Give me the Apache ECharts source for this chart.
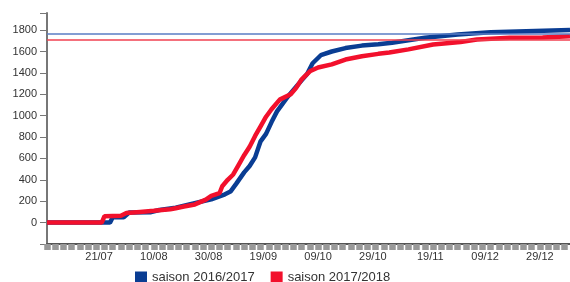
<!DOCTYPE html>
<html>
<head>
<meta charset="utf-8">
<script src="https://cdn.jsdelivr.net/npm/echarts@6/dist/echarts.min.js"></script>
<style>
  html, body { margin: 0; padding: 0; background: #fff; }
  #chart { width: 570px; height: 282px; }
</style>
</head>
<body>
<div id="chart"></div>
<script>
// days shown on the x axis: 02/07 .. 09/01
const months = [[7, 2, 31], [8, 1, 31], [9, 1, 30], [10, 1, 31], [11, 1, 30], [12, 1, 31], [1, 1, 9]]
const days = []
months.forEach(m => {
  for (let d = m[1]; d <= m[2]; d++) {
    days.push(String(d).padStart(2, '0') + '/' + String(m[0]).padStart(2, '0'))
  }
})

const tickLabels = ['21/07', '10/08', '30/08', '19/09', '09/10', '29/10', '19/11', '09/12', '29/12']

// cumulative values: [day, value]
const saison1617 = [
  ['02/07', 0], ['25/07', 0], ['26/07', 50], ['30/07', 50], ['01/08', 95], ['09/08', 98],
  ['12/08', 118], ['18/08', 140], ['23/08', 170], ['31/08', 218], ['05/09', 265], ['07/09', 290],
  ['09/09', 360], ['12/09', 470], ['14/09', 530], ['16/09', 610], ['18/09', 760], ['20/09', 830],
  ['22/09', 940], ['24/09', 1040], ['26/09', 1110], ['28/09', 1180], ['01/10', 1270], ['03/10', 1330],
  ['05/10', 1390], ['07/10', 1490], ['10/10', 1565], ['14/10', 1600], ['19/10', 1632], ['25/10', 1655],
  ['31/10', 1667], ['05/11', 1682], ['17/11', 1728], ['29/11', 1758], ['11/12', 1780], ['24/12', 1790],
  ['09/01', 1800]
]
const saison1718 = [
  ['02/07', 0], ['22/07', 0], ['23/07', 60], ['29/07', 65], ['31/07', 90], ['05/08', 100],
  ['10/08', 110], ['16/08', 125], ['18/08', 135], ['21/08', 150], ['25/08', 170], ['29/08', 215],
  ['31/08', 250], ['03/09', 275], ['04/09', 340], ['06/09', 400], ['08/09', 450], ['10/09', 540],
  ['12/09', 630], ['14/09', 710], ['16/09', 810], ['18/09', 900], ['20/09', 990], ['22/09', 1060],
  ['25/09', 1150], ['29/09', 1200], ['01/10', 1260], ['03/10', 1340], ['06/10', 1415], ['09/10', 1450],
  ['14/10', 1480], ['19/10', 1525], ['25/10', 1555], ['31/10', 1578], ['04/11', 1590], ['11/11', 1620],
  ['20/11', 1665], ['30/11', 1688], ['06/12', 1713], ['18/12', 1728], ['30/12', 1730], ['09/01', 1742]
]
const refLines = [1770, 1713]

const font = 'Liberation Sans, Arial, sans-serif'
const myecharts = echarts.init(document.getElementById('chart'), null, { renderer: 'canvas' })
const option = {
  animation: false,
  grid: { left: 47, right: 0, top: 13, height: 231 },
  legend: {
    left: 130,
    top: 266,
    icon: 'rect',
    itemWidth: 12,
    itemHeight: 12,
    itemGap: 16,
    textStyle: { fontSize: 13, color: '#333', fontFamily: font },
    data: ['saison 2016/2017', 'saison 2017/2018']
  },
  xAxis: {
    type: 'category',
    boundaryGap: false,
    data: days,
    axisLine: { onZero: false, lineStyle: { color: '#555', width: 2 } },
    axisTick: {
      interval: 2,
      length: 6,
      lineStyle: { color: '#999', width: 6.5 }
    },
    axisLabel: {
      interval: (i, v) => tickLabels.includes(v),
      fontSize: 11,
      color: '#333',
      fontFamily: font,
      margin: 7
    },
    splitLine: { show: false }
  },
  yAxis: {
    type: 'value',
    min: -200,
    max: 1960,
    interval: 200,
    axisLine: { show: true, lineStyle: { color: '#777', width: 2 } },
    axisTick: { show: true, length: 7, lineStyle: { color: '#777' } },
    axisLabel: {
      fontSize: 11,
      color: '#333',
      fontFamily: font,
      margin: 10,
      formatter: v => (v < 0 || v > 1800) ? '' : String(v)
    },
    splitLine: { show: false }
  },
  series: [
    {
      name: 'saison 2016/2017',
      type: 'line',
      data: saison1617,
      showSymbol: false,
      color: '#0a3d93',
      lineStyle: { width: 4.5, color: '#0a3d93' },
      markLine: {
        silent: true,
        symbol: 'none',
        label: { show: false },
        lineStyle: { color: '#5a7cc4', width: 1.5, type: 'solid' },
        data: [{ yAxis: refLines[0] }]
      }
    },
    {
      name: 'saison 2017/2018',
      type: 'line',
      data: saison1718,
      showSymbol: false,
      color: '#f2102c',
      lineStyle: { width: 4.5, color: '#f2102c' },
      markLine: {
        silent: true,
        symbol: 'none',
        label: { show: false },
        lineStyle: { color: '#f04050', width: 1.5, type: 'solid' },
        data: [{ yAxis: refLines[1] }]
      }
    }
  ]
}
myecharts.setOption(option)
</script>
</body>
</html>
